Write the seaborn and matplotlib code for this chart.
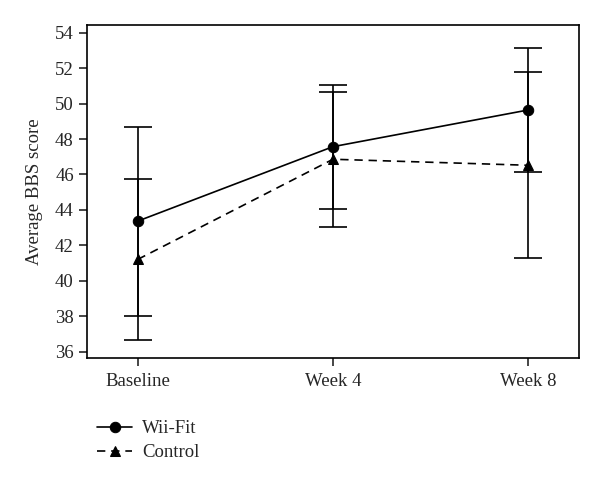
import numpy as np
import pandas as pd
import matplotlib
matplotlib.use("Agg")
import matplotlib.pyplot as plt
import seaborn as sns

# data
timepoints = ["Baseline", "Week 4", "Week 8"]
wii_mean = [43.37, 47.57, 49.64]
wii_sd = [5.33, 3.50, 3.48]
control_mean = [41.21, 46.86, 46.52]
control_sd = [4.55, 3.80, 5.25]
groups = ["Wii-Fit", "Control"]

sns.set_style("ticks")
plt.rcParams['font.family'] = ['Liberation Serif', 'DejaVu Serif']
plt.rcParams['axes.linewidth'] = 1.2

x_pos = np.arange(len(timepoints))
df = pd.DataFrame({
    "pos": np.concatenate([x_pos, x_pos]),
    "score": wii_mean + control_mean,
    "group": [groups[0]] * 3 + [groups[1]] * 3,
})

fig = plt.figure(figsize=(6, 4.82), dpi=100)
ax = fig.add_axes([0.145, 0.257, 0.82, 0.691])

# error bars first so the markers sit on top
for means, sds in [(wii_mean, wii_sd), (control_mean, control_sd)]:
    ax.errorbar(x_pos, means, yerr=sds, fmt='none', ecolor='black',
                elinewidth=1.2, capsize=9.8, capthick=1.2, zorder=1)

sns.lineplot(data=df, x="pos", y="score", hue="group", style="group",
             hue_order=groups, style_order=groups,
             palette={"Wii-Fit": "black", "Control": "black"},
             markers={"Wii-Fit": "o", "Control": "^"},
             dashes={"Wii-Fit": "", "Control": (5, 3.5)},
             markersize=7.5, markeredgecolor='black', linewidth=1.2,
             ax=ax, zorder=3)

ax.set_xlim(-0.26, 2.26)
ax.set_ylim(35.64, 54.43)
ax.set_yticks(np.arange(36, 55, 2))
ax.set_xticks(x_pos)
ax.set_xticklabels(timepoints)
ax.set_xlabel("")
ax.set_ylabel("Average BBS score", fontsize=13.5, labelpad=9)
ax.tick_params(axis='both', labelsize=13.5, length=6, width=1.2, direction='out')
ax.tick_params(axis='x', pad=5)
for s in ax.spines.values():
    s.set_visible(True)
    s.set_color('black')

handles, labels = ax.get_legend_handles_labels()
ax.get_legend().remove()
fig.legend(handles, labels, loc='upper left', bbox_to_anchor=(0.162, 0.128),
           frameon=False, fontsize=13.5, handlelength=1.85, handletextpad=0.55,
           labelspacing=0.35, borderaxespad=0, borderpad=0)

fig.savefig("out.png", dpi=100)
